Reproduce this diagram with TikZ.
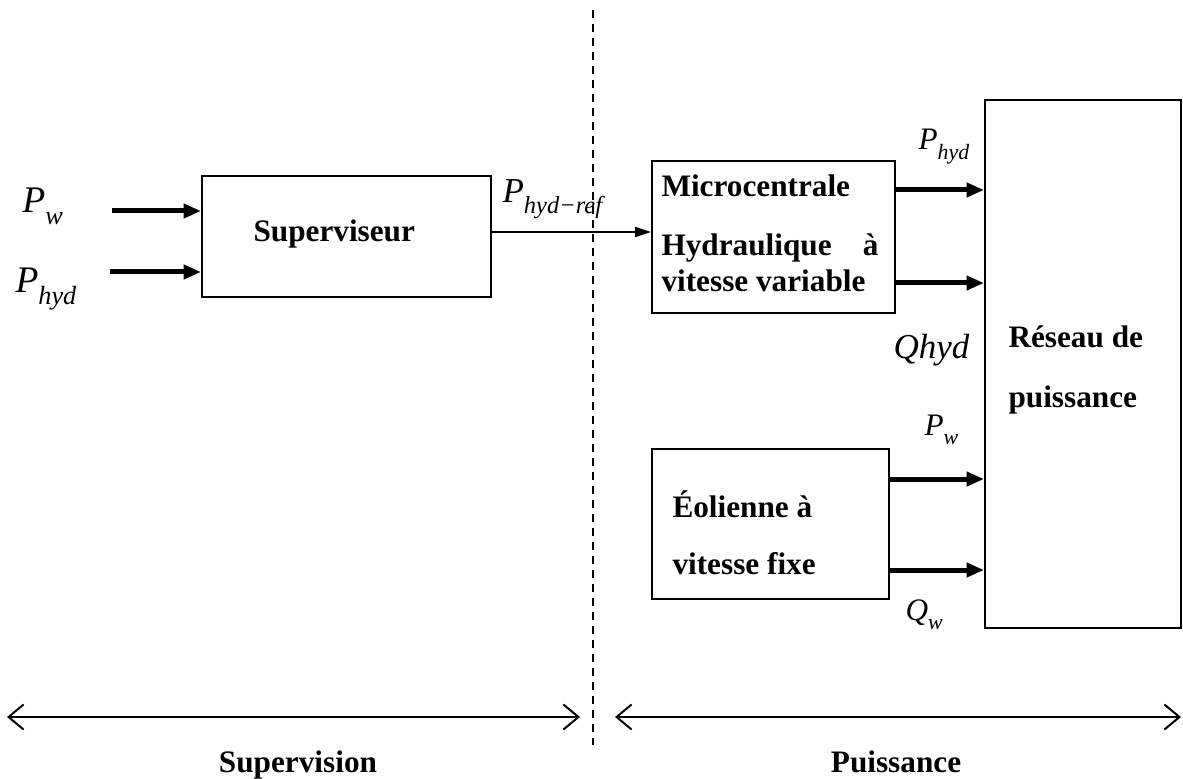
\documentclass[tikz,border=0pt]{standalone}
\usepackage{fontspec}
\setmainfont{Liberation Serif}
\usetikzlibrary{arrows.meta}
\newcommand{\grandeur}[2]{\textit{#1}\raisebox{-0.3em}{\scalebox{0.7}{\textit{#2}}}}

\begin{document}
\begin{tikzpicture}[
    x=0.4pt, y=-0.4pt,
    every node/.style={font=\fontsize{12.5}{15}\selectfont\bfseries},
    bloc/.style={draw, line width=0.8pt, inner sep=0pt},
    texte/.style={anchor=base west, inner sep=0pt},
    titre/.style={anchor=base, inner sep=0pt},
    fort/.style={line width=2pt, -{Triangle[length=7pt,width=5.6pt]}},
    fin/.style={line width=0.8pt, -{Triangle[length=6.4pt,width=4pt]}},
    zone/.style={line width=0.8pt, {Straight Barb[length=6pt,width=10pt]}-{Straight Barb[length=6pt,width=10pt]}},
    grand/.style={font=\fontsize{15}{18}\selectfont, anchor=base west, inner sep=0pt},
    moyen/.style={font=\fontsize{14}{16}\selectfont, anchor=base west, inner sep=0pt},
    petit/.style={font=\fontsize{12.5}{15}\selectfont, anchor=base west, inner sep=0pt},
]
\useasboundingbox (0,0) rectangle (1183,778);
% Left side: supervision
\node[bloc, minimum width=115.6pt, minimum height=48.4pt] (sup) at (346.5,236.5) {};
\node[texte] (tsup) at (253,242) {Superviseur};
\coordinate (inw) at (112,211);
\coordinate (inh) at (110,272);
\draw[fort] (inw) -- (sup.west |- inw);
\draw[fort] (inh) -- (sup.west |- inh);
\node[grand] (lpw) at (22,213) {\grandeur{P}{w}};
\node[grand] (lph) at (15,293) {\grandeur{P}{hyd}};
% Right side: power blocks
\node[bloc, minimum width=97.2pt, minimum height=60.8pt] (micro) at (773.5,237) {};
\node[texte] (tmic1) at (661,197) {Microcentrale};
\node[texte, text width=86.8pt, align=left] (tmic2) at (661,256) {Hydraulique\hfill à};
\node[texte] (tmic3) at (661,292) {vitesse variable};
\node[bloc, minimum width=94.8pt, minimum height=60pt] (eol) at (770.5,524) {};
\node[texte] (teol1) at (672,517) {Éolienne à};
\node[texte] (teol2) at (672,574) {vitesse fixe};
\node[bloc, minimum width=78.4pt, minimum height=211.2pt] (res) at (1083,364) {};
\node[texte] (tres1) at (1008,347) {Réseau de};
\node[texte] (tres2) at (1008,407) {puissance};
% Reference signal
\coordinate (ref) at (0,232);
\draw[fin] (sup.east |- ref) -- (micro.west |- ref);
\node[moyen] (lref) at (502,203) {\grandeur{P}{hyd−ref}};
% Outputs to the network
\coordinate (oph) at (0,190);
\coordinate (oqh) at (0,283);
\coordinate (opw) at (0,479);
\coordinate (oqw) at (0,570);
\draw[fort] (micro.east |- oph) -- (res.west |- oph);
\draw[fort] (micro.east |- oqh) -- (res.west |- oqh);
\draw[fort] (eol.east |- opw) -- (res.west |- opw);
\draw[fort] (eol.east |- oqw) -- (res.west |- oqw);
\node[petit] (lphr) at (918,150) {\grandeur{P}{hyd}};
\node[moyen] (lqh) at (893,358) {\textit{Qhyd}};
\node[petit] (lpwr) at (924,435) {\grandeur{P}{w}};
\node[petit] (lqw) at (905,620) {\grandeur{Q}{w}};
% Separation and zones
\coordinate (haut) at (593,10);
\coordinate (bas) at (593,745);
\draw[line width=0.8pt, dash pattern=on 3.2pt off 2.4pt] (haut) -- (bas);
\coordinate (s1) at (7,717);
\coordinate (s2) at (580,717);
\coordinate (p1) at (615,717);
\coordinate (p2) at (1181,717);
\draw[zone] (s1) -- (s2);
\draw[zone] (p1) -- (p2);
\node[titre] (lsup) at (298,772) {Supervision};
\node[titre] (lpui) at (896,772) {Puissance};
\end{tikzpicture}
\end{document}
